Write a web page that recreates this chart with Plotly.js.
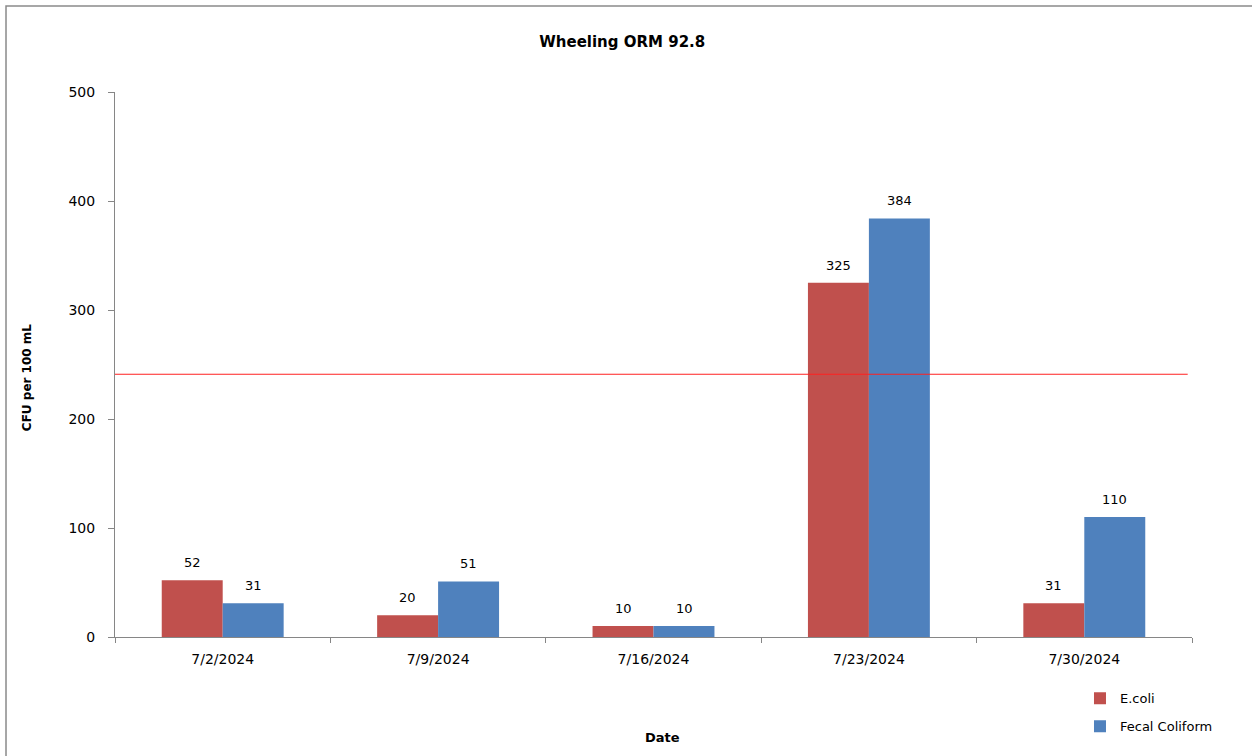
<!DOCTYPE html>
<html>
<head>
<meta charset="utf-8">
<script src="https://cdn.plot.ly/plotly-3.0.1.min.js"></script>
<style>
html,body{margin:0;padding:0;background:#fff;}
#chart{width:1252px;height:756px;}
</style>
</head>
<body>
<div id="chart"></div>
<script>
var dates = ["7/2/2024", "7/9/2024", "7/16/2024", "7/23/2024", "7/30/2024"];
var ecoli = [52, 20, 10, 325, 31];
var fecal = [31, 51, 10, 384, 110];
var thresholdX = [-0.5, 4.48];
var thresholdY = [241, 241];

var RED = "#C0504D", BLUE = "#4F81BD";
var FONT = "DejaVu Sans, Verdana, sans-serif";

var traces = [
  {type: "bar", name: "E.coli", x: dates, y: ecoli, marker: {color: RED}, legendgroup: "a", hoverinfo: "x+y"},
  {type: "bar", name: "Fecal Coliform", x: dates, y: fecal, marker: {color: BLUE}, legendgroup: "b", hoverinfo: "x+y"},
  {type: "scatter", mode: "lines", x: thresholdX, y: thresholdY, xaxis: "x2", showlegend: false,
   line: {color: "#FF2020", width: 1.1}, hoverinfo: "skip"}
];

var annotations = [];
function addLabels(vals, shift) {
  for (var i = 0; i < dates.length; i++) {
    annotations.push({x: dates[i], y: vals[i], xref: "x", yref: "y", text: String(vals[i]),
      showarrow: false, xanchor: "center", yanchor: "bottom", xshift: shift, yshift: 8,
      font: {family: FONT, size: 13, color: "#000"}});
  }
}
addLabels(ecoli, -30.5);
addLabels(fecal, 30.5);

annotations.push({xref: "paper", yref: "paper", x: -0.0817, y: 0.475, text: "<b>CFU per 100 mL</b>",
  textangle: -90, showarrow: false, xanchor: "center", yanchor: "middle",
  font: {family: FONT, size: 12, color: "#000"}});
annotations.push({xref: "paper", yref: "paper", x: 0.508, y: -0.1853, text: "<b>Date</b>",
  showarrow: false, xanchor: "center", yanchor: "middle",
  font: {family: FONT, size: 13, color: "#000"}});

var layout = {
  width: 1252, height: 756,
  margin: {l: 115, r: 60, t: 92, b: 119},
  paper_bgcolor: "#fff", plot_bgcolor: "#fff",
  font: {family: FONT, size: 13, color: "#000"},
  title: {text: "<b>Wheeling ORM 92.8</b>", x: 0.497, xanchor: "center", y: 0.945, yanchor: "middle",
          font: {family: FONT, size: 15, color: "#000"}},
  barmode: "group", bargap: 0.434, bargroupgap: 0,
  xaxis: {type: "category", showline: true, linecolor: "#868686", linewidth: 1,
          ticks: "outside", ticklen: 5, tickcolor: "#868686", tickson: "boundaries",
          showgrid: false, zeroline: false, ticklabelstandoff: 9,
          tickfont: {family: FONT, size: 14}},
  xaxis2: {overlaying: "x", range: [-0.5, 4.5], visible: false, showgrid: false, zeroline: false},
  yaxis: {range: [0, 500], dtick: 100, showline: true, linecolor: "#868686", linewidth: 1,
          ticks: "outside", ticklen: 6, tickcolor: "#868686", showgrid: false, zeroline: false,
          ticklabelstandoff: 10, tickfont: {family: FONT, size: 14}},
  legend: {x: 0.896, y: -0.085, xanchor: "left", yanchor: "top", traceorder: "grouped", tracegroupgap: 8,
           font: {family: FONT, size: 13}, bgcolor: "rgba(0,0,0,0)", itemwidth: 30},
  annotations: annotations,
  shapes: [{type: "rect", xref: "paper", yref: "paper", x0: -0.1012, x1: 1.07, y0: -0.25, y1: 1.1578,
            line: {color: "#8a8a8a", width: 1.5}, fillcolor: "rgba(0,0,0,0)", layer: "below"}],
  showlegend: true
};

Plotly.newPlot("chart", traces, layout, {displayModeBar: false, staticPlot: true});
</script>
</body>
</html>
